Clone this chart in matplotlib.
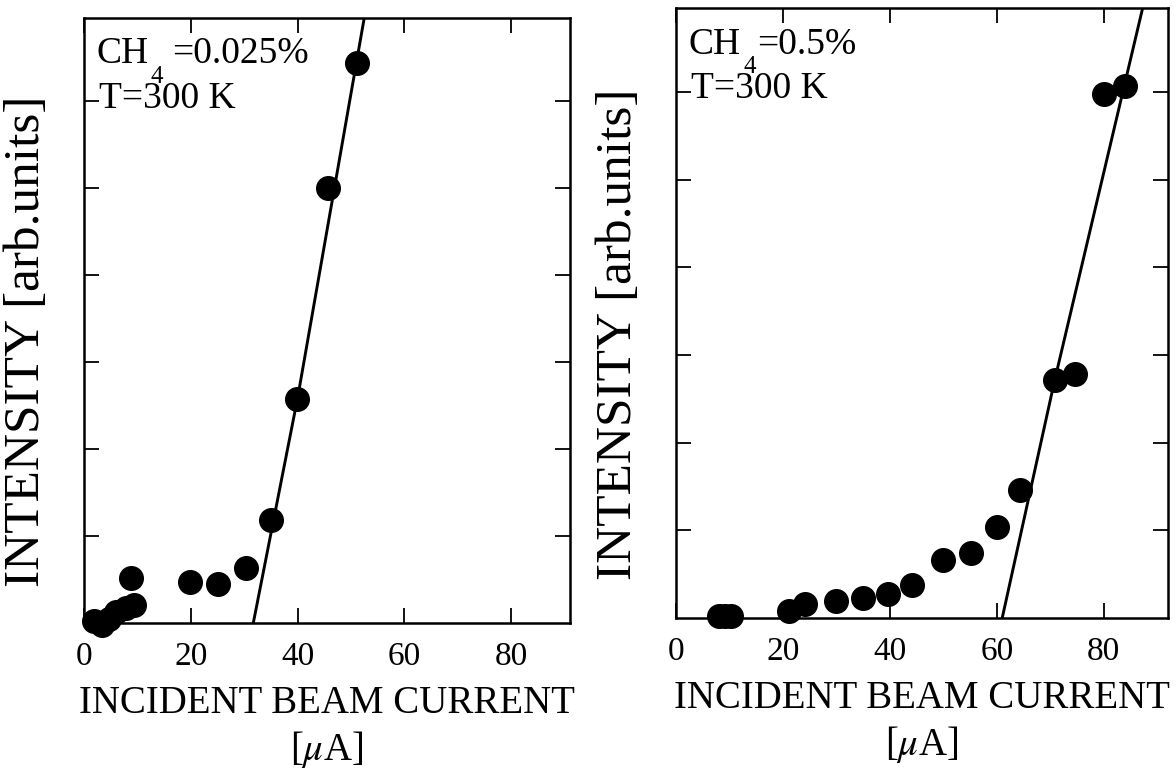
import matplotlib
matplotlib.use('Agg')
import matplotlib.pyplot as plt

plt.rcParams['font.family'] = ['Liberation Serif', 'DejaVu Serif']
plt.rcParams['mathtext.fontset'] = 'stix'

# CH4 = 0.025 %
x_a = [1.9, 3.4, 4.7, 5.9, 7.8, 9.4, 8.8, 19.8, 25.0, 30.3, 35.0, 39.8, 45.6, 51.2]
y_a = [0.02, -0.02, 0.05, 0.13, 0.17, 0.21, 0.52, 0.475, 0.445, 0.63, 1.18, 2.58, 5.0, 6.44]
fit_xa = [31.7, 40.0, 52.5]
fit_ya = [0.0, 2.59, 6.97]

# CH4 = 0.5 %
x_b = [8.1, 9.2, 10.3, 21.1, 24.2, 29.9, 34.9, 39.7, 44.1, 50.0, 55.1, 60.0, 64.3, 70.8, 74.7, 80.0, 84.0]
y_b = [0.02, 0.02, 0.02, 0.08, 0.16, 0.19, 0.23, 0.27, 0.38, 0.66, 0.74, 1.04, 1.46, 2.72, 2.78, 5.98, 6.07]
fit_xb = [61.0, 70.8, 87.3]
fit_yb = [0.0, 2.71, 6.97]

xticks = [0, 20, 40, 60, 80]
yticks = [1, 2, 3, 4, 5, 6]

fig = plt.figure(figsize=(11.76, 7.73), dpi=100)
ax1 = fig.add_axes([84/1176, 1-623/773, 486/1176, 605/773])
ax2 = fig.add_axes([676/1176, 1-618/773, 492/1176, 610/773])


def panel(ax, xs, ys, fx, fy, xmax, conc, conc_x):
    ax.plot(fx, fy, color='black', lw=2.1, zorder=2)
    ax.plot(xs, ys, 'o', color='black', ms=17, clip_on=False, zorder=3)
    ax.set_xlim(0, xmax)
    ax.set_ylim(0, 6.96)
    ax.set_xticks(xticks)
    ax.set_yticks(yticks)
    ax.set_yticklabels([])
    ax.tick_params(axis='both', direction='in', top=True, right=True,
                   width=1.3, length=11, labelsize=24)
    ax.tick_params(axis='x', pad=13)
    for s in ax.spines.values():
        s.set_linewidth(1.8)
    ax.set_xlabel('INCIDENT BEAM CURRENT\n[$\\mu$A]', fontsize=28,
                  linespacing=1.2, labelpad=10)
    ax.set_ylabel('INTENSITY [arb.units]', fontsize=37)
    ax.yaxis.set_label_coords(-0.07, 0.465)
    ax.text(0.025, 0.925, 'CH', transform=ax.transAxes, fontsize=27,
            ha='left', va='baseline')
    ax.text(0.137, 0.893, '4', transform=ax.transAxes, fontsize=18,
            ha='left', va='baseline')
    ax.text(conc_x, 0.925, conc, transform=ax.transAxes, fontsize=27,
            ha='left', va='baseline')
    ax.text(0.03, 0.852, 'T=300 K', transform=ax.transAxes, fontsize=27,
            ha='left', va='baseline')


panel(ax1, x_a, y_a, fit_xa, fit_ya, 91, '=0.025%', 0.182)
panel(ax2, x_b, y_b, fit_xb, fit_yb, 92, '=0.5%', 0.165)

fig.savefig('out.png', dpi=100)
